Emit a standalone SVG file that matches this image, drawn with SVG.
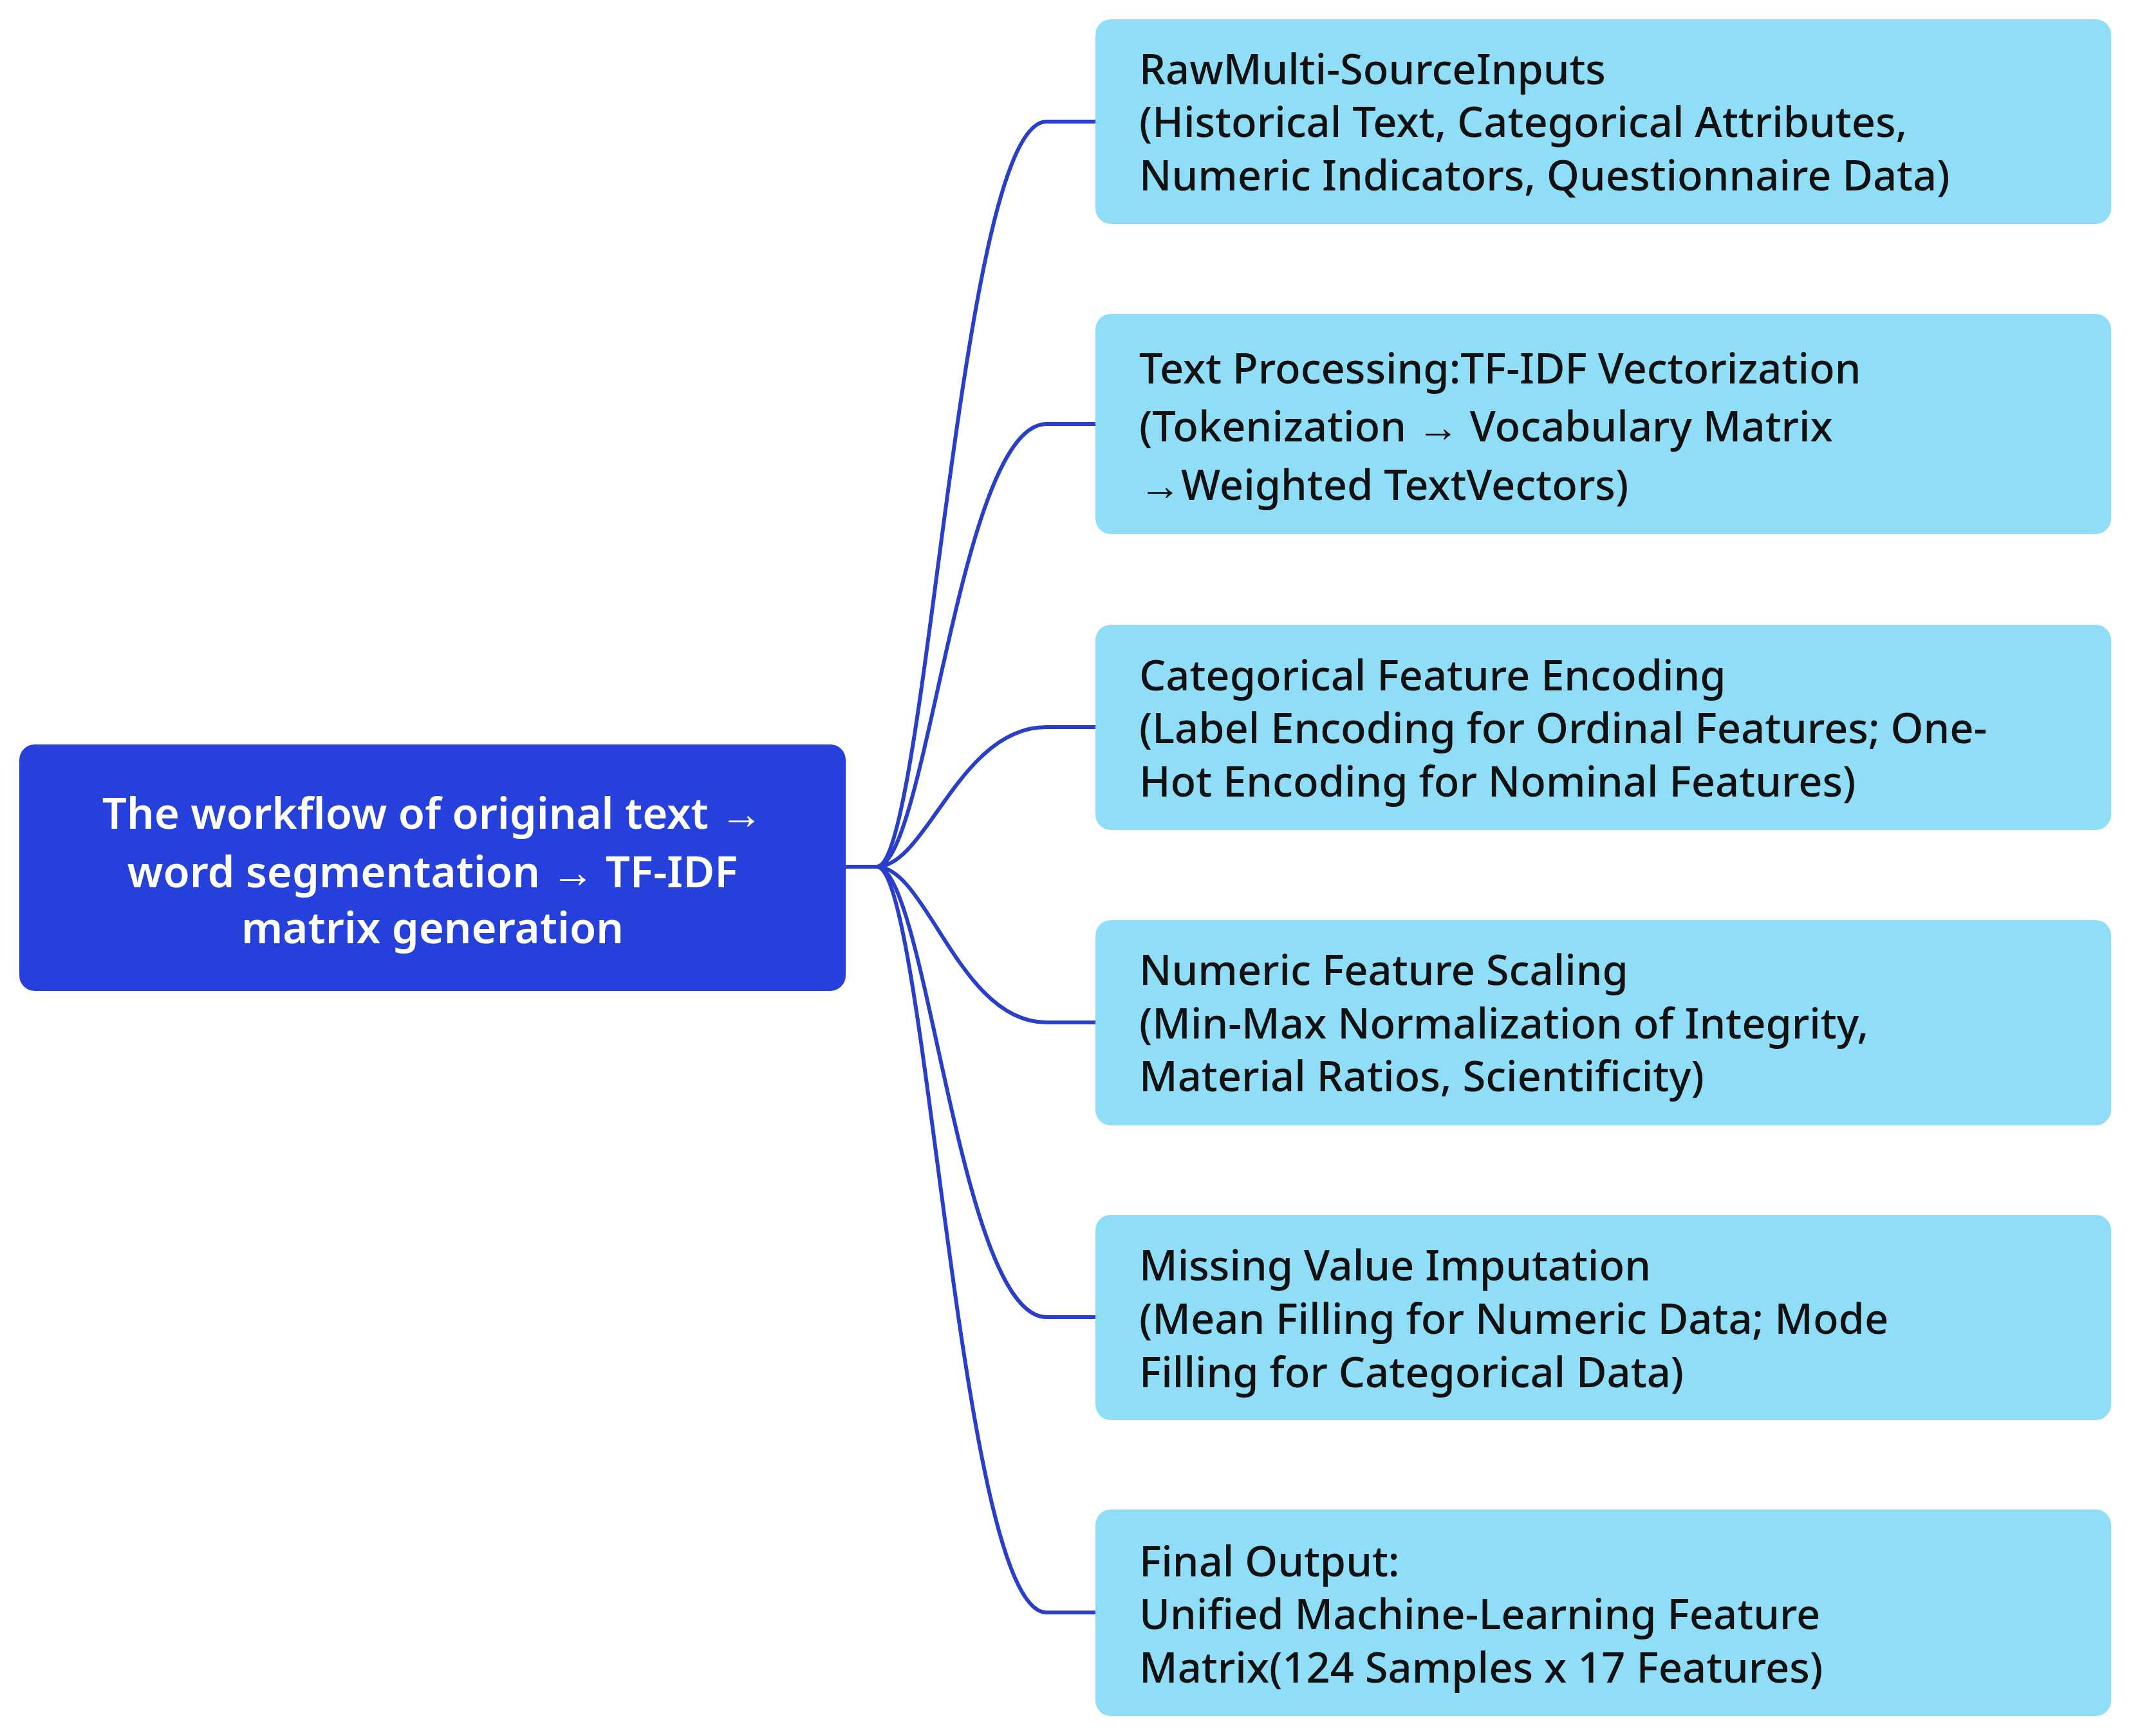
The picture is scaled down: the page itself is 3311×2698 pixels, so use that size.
<svg xmlns="http://www.w3.org/2000/svg" width="3311" height="2698" viewBox="0 0 3311 2698">
<style>
.b{fill:#8FDDF7}
.t{font-family:"Noto Sans","Liberation Sans",sans-serif;font-size:65px;font-weight:500;fill:#111}
.c{font-family:"Noto Sans","Liberation Sans",sans-serif;font-size:67px;font-weight:600;fill:#fff;text-anchor:middle}
#edges path{fill:none;stroke:#2A3FC9;stroke-width:6}
</style>
<rect width="3311" height="2698" fill="#fff"/>
<g id="edges">
<path d="M1314,1347 H1362 C1440,1347 1490,189 1626,189 H1702"/>
<path d="M1314,1347 H1362 C1440,1347 1490,659 1626,659 H1702"/>
<path d="M1362,1347 C1440,1347 1490,1130 1626,1130 H1702"/>
<path d="M1362,1347 C1440,1347 1490,1589 1626,1589 H1702"/>
<path d="M1362,1347 C1440,1347 1490,2047 1626,2047 H1702"/>
<path d="M1362,1347 C1440,1347 1490,2506 1626,2506 H1702"/>
</g>
<g id="center"><rect x="30" y="1157" width="1284" height="383" rx="24" fill="#2540DB"/>
<text class="c" x="672" y="1288">The workflow of original text →</text>
<text class="c" x="672" y="1379">word segmentation → TF-IDF</text>
<text class="c" x="672" y="1466">matrix generation</text></g>
<g id="n1"><rect class="b" x="1702" y="30" width="1578" height="318" rx="24"/>
<text class="t" x="1770" y="131">RawMulti-SourceInputs</text>
<text class="t" x="1770" y="213">(Historical Text, Categorical Attributes,</text>
<text class="t" x="1770" y="296">Numeric Indicators, Questionnaire Data)</text></g>
<g id="n2"><rect class="b" x="1702" y="488" width="1578" height="342" rx="24"/>
<text class="t" x="1770" y="596">Text Processing:TF-IDF Vectorization</text>
<text class="t" x="1770" y="686">(Tokenization → Vocabulary Matrix</text>
<text class="t" x="1770" y="777">→Weighted TextVectors)</text></g>
<g id="n3"><rect class="b" x="1702" y="971" width="1578" height="319" rx="24"/>
<text class="t" x="1770" y="1073">Categorical Feature Encoding</text>
<text class="t" x="1770" y="1155">(Label Encoding for Ordinal Features; One-</text>
<text class="t" x="1770" y="1238">Hot Encoding for Nominal Features)</text></g>
<g id="n4"><rect class="b" x="1702" y="1430" width="1578" height="319" rx="24"/>
<text class="t" x="1770" y="1531">Numeric Feature Scaling</text>
<text class="t" x="1770" y="1614">(Min-Max Normalization of Integrity,</text>
<text class="t" x="1770" y="1696">Material Ratios, Scientificity)</text></g>
<g id="n5"><rect class="b" x="1702" y="1888" width="1578" height="319" rx="24"/>
<text class="t" x="1770" y="1990">Missing Value Imputation</text>
<text class="t" x="1770" y="2073">(Mean Filling for Numeric Data; Mode</text>
<text class="t" x="1770" y="2156">Filling for Categorical Data)</text></g>
<g id="n6"><rect class="b" x="1702" y="2346" width="1578" height="321" rx="24"/>
<text class="t" x="1770" y="2450">Final Output:</text>
<text class="t" x="1770" y="2532">Unified Machine-Learning Feature</text>
<text class="t" x="1770" y="2615">Matrix(124 Samples x 17 Features)</text></g>
</svg>
